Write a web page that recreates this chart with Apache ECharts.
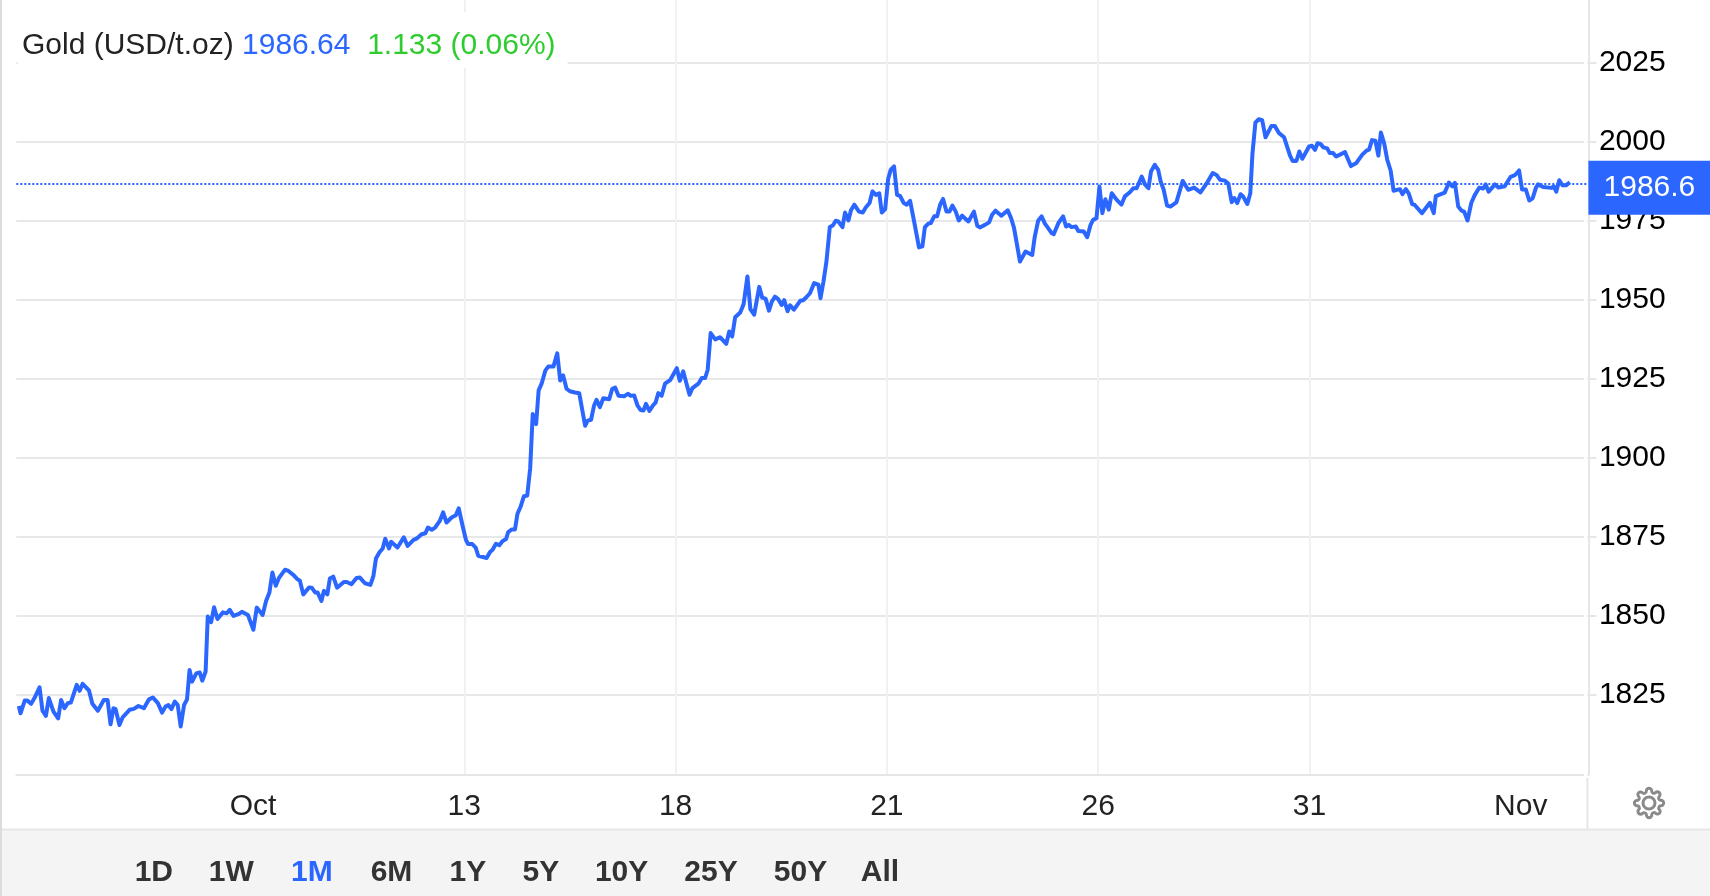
<!DOCTYPE html>
<html>
<head>
<meta charset="utf-8">
<style>html,body{margin:0;padding:0;background:#fff}#c{width:1710px;height:896px}</style>
<script src="https://cdn.jsdelivr.net/npm/echarts@6/dist/echarts.min.js"></script>
</head>
<body>
<div id="c"></div>
<script>
const sessionIndex = [
0.6,1,2,2.6,3.5,4.3,5.5,6.2,7,7.7,
8.8,9.9,10.6,11.4,12.2,12.9,14.3,15,15.7,17.2,
18,19.3,20.7,21.6,22.3,23,23.5,24.4,25.2,26.8,
27.8,28.9,30.2,31.4,32.3,33.5,34.5,35.3,36,36.7,
37.5,38.2,38.9,39.7,40.4,41,41.6,42.6,43.4,44,
44.8,45.3,46.1,46.8,47.6,48.9,49.8,50.5,51.4,52.7,
53.4,54.8,56.1,56.9,58.3,59.1,59.9,60.6,61.4,62.2,
63.6,64.4,65.5,66.5,67.1,67.9,69.3,69.9,70.7,71.3,
72.2,72.8,73.6,74.2,75,75.9,77.5,78.2,79.3,80.5,
81.3,82.5,83.8,84.5,85.1,85.9,86.7,87.3,88.2,88.7,
90.2,91.7,92.6,94,94.7,95.9,96.8,97.4,98.3,99.1,
100.2,101,101.8,103,104,104.7,105.6,106.4,106.9,107.9,
108.7,109.3,111.3,112.1,112.7,113.5,114.3,115.1,115.9,116.4,
117.2,118,118.6,119.3,120.1,120.9,121.6,122.2,123,123.6,
124.3,125.2,125.9,127.1,128,128.7,129.4,130.2,131,132.2,
133.2,134.6,135.2,136,136.7,137.3,138.1,138.9,140.3,141,
141.7,142.5,143.8,144.7,145.4,146.2,147,147.7,148.4,149,
149.8,150.6,151.3,151.9,152.7,153.5,154.7,156.3,157,157.8,
159.3,160,161.4,162.2,163,163.6,164.3,165.4,166.5,168,
168.7,169.4,170.1,171.3,172.1,173,173.7,174.6,175.8,176.5,
177.3,178.1,178.8,179.5,180.3,181.1,181.7,182.5,183.1,184,
185.5,186.2,187,187.8,188.8,189.8,190.3,191,191.7,192.5,
193.2,193.9,194.5,195.5,196.1,196.9,197.5,198.3,199.4,200.3,
201,201.9,202.6,203.4,204.2,204.8,205.6,206.3,206.9,207.7,
208.4,209.1,210,210.7,211.5,212.6,213.6,214.4,215,215.8,
216.4,217.2,217.9,218.6,219.3,220.1,220.8,221.5,222.3,223,
223.8,225.3,226.6,227.4,228,229.2,230.2,230.9,231.7,233.1,
234.6,235.4,236.1,237.5,238.8,240.4,241,241.8,242.6,243.4,
244,245,245.5,246.6,247.7,248.4,249,249.7,250.7,251.3,
252.6,253.4,254.2,254.8,255.6,256.3,257,257.7,258.5,259.2,
260.4,261.5,262.3,263.5,264.3,265.1,266.3,267.1,267.9,268.5,
269.4,270.2,270.8,271.5,272.3,273.1,274.5,276,277.3,278.7,
280.2,281.7,283.1,284,284.8,286,286.8,287.6,288.2,288.9,
289.7,290.3,291.3,292,292.5,293.2,294,294.8,295.6,297,
297.8,298.8,300,301.4,302,302.9,303.6,304.3,305.9,306.6,
307.3,307.9,308.6,309.3,310.2,310.8,311.6,312.3,314.4,315.8,
317.1,318.5,319.5,320.1,320.8,321.6,322.3,322.9,323.7,324.4,
325.2,325.9,327.4,328,328.8,329.5,330.3,330.9,332.6,334.5,
335.4,335.9,338,339,339.8,340.4,341.2,342,342.6,343.4,
344.3,345.1,346.2,347.1,347.7,348.4,349.9,350.7,352.2,353.6,
354.6,355.6,356.3,357.2,358,358.8,359.6,360.1,361.3,363.3,
363.8,364.4,365.1,365.9,366.7,367.6
];
const goldPrice = [
1821.5,1819.2,1823.2,1823.2,1822.2,1824,1827.4,1820,1818.4,1824,
1819.7,1817.6,1823.4,1820.8,1822.4,1822.6,1828.2,1826.3,1828.5,1826.4,
1822.2,1820,1823.4,1823.4,1815.7,1820.8,1820.5,1815.5,1818,1820.3,
1820.6,1821.5,1820.8,1823.6,1824.2,1822.4,1819.4,1821.3,1821.8,1820.5,
1822.9,1821.8,1815,1821.8,1823.6,1832.9,1829.2,1831.8,1832.1,1829.5,
1832.4,1849.8,1848,1852.7,1849,1851.1,1850.8,1851.9,1850,1850.6,
1851.3,1850.3,1845.6,1852.6,1850.3,1854.7,1857.4,1863.7,1859.5,1862.1,
1864.6,1864.2,1863,1861.6,1861.1,1856.8,1859,1858.9,1857.4,1857.4,
1854.7,1857.9,1856.8,1861.8,1862.4,1858.9,1860.7,1860.7,1860,1862,
1862.1,1860.3,1859.8,1862.6,1868.1,1870,1871.3,1874.4,1871.3,1873.4,
1871.6,1874.8,1872.1,1874,1874.4,1875.8,1876.1,1877.9,1877.2,1877.9,
1880,1882.7,1879.5,1881.1,1881.8,1884,1878.5,1874,1872.7,1872.7,
1871.6,1869,1868.3,1870.2,1870.9,1872.8,1872.3,1873.7,1874.3,1876.5,
1877.3,1877.3,1882.3,1884.4,1887.8,1888,1896.7,1913.8,1910.6,1921.3,
1923.4,1927.6,1928.8,1928.8,1933,1924.4,1926,1921.8,1921,1920.6,
1920.4,1910.1,1911.7,1912,1916.4,1918.3,1916,1918.8,1918.5,1921.7,
1922.2,1919.6,1919.4,1920.2,1919.6,1919.7,1916.5,1915.1,1914.9,1917,
1914.8,1916.4,1917.5,1920.4,1919.6,1923.4,1924.5,1928.3,1924.3,1927.3,
1919.9,1922,1923.4,1925.2,1925.2,1927.8,1939.4,1937.4,1938.1,1936,
1939.9,1938.3,1944.4,1945.9,1948.5,1957.3,1947,1945.2,1954,1950.6,
1950.3,1946.5,1949.4,1950.9,1950.1,1948.3,1949.8,1946.3,1948.2,1946.8,
1949.6,1949.8,1950.8,1952,1955.2,1954.7,1950.4,1955.7,1962,1972.9,
1973.4,1974.9,1974.7,1972.9,1977.5,1975,1978.2,1980,1977.8,1977.5,
1979.1,1980.5,1984.2,1983.1,1983.6,1977.5,1978.6,1988.1,1991,1992.1,
1983.1,1982.8,1980.5,1980,1981.2,1973.6,1966.5,1966.8,1972.9,1974,
1974.2,1976.3,1976.3,1980,1981.8,1977.8,1977.8,1979.7,1977.8,1975,
1976.5,1974.7,1977.8,1973.3,1972.8,1973.6,1974.4,1976.8,1978.1,1976.5,
1978.2,1975.7,1972.6,1962,1965.2,1964.1,1969.9,1974.9,1976.3,1974,
1972.9,1971,1970.7,1974.2,1976.3,1973.1,1973.6,1972.9,1973.1,1971.7,
1971.5,1969.7,1973.6,1975.2,1975.7,1985.7,1977.3,1981.7,1978.4,1983.6,
1981.5,1980,1982.6,1983.9,1985.2,1985.2,1988.9,1986.3,1985.2,1990.5,
1992.6,1991,1987.3,1984.7,1979.7,1979.4,1980.7,1987.5,1984.7,1985.4,
1983.9,1986.8,1990,1989.4,1987.9,1987.6,1986.6,1980.8,1982.1,1980.5,
1983.3,1982.6,1980.2,1983.6,1996,2005.9,2007,2006.7,2001.3,2004.9,
2004.9,2002.6,2001.3,1995.5,1993.8,1993.8,1996.8,1994.5,1998.4,1998.6,
1997.3,1999.4,1999.2,1998.1,1997.8,1996.3,1996.3,1995.2,1996.6,1992.2,
1993.2,1995.8,1997.1,1997.4,2000.4,2000.2,1995.5,2002.8,1999.2,1994.2,
1990.8,1984.4,1984.9,1983.3,1984.9,1983.5,1980.2,1979.9,1977.3,1980.6,
1977.3,1982.7,1983.8,1987,1985.8,1986.9,1979.4,1978.1,1977.8,1975,
1980.6,1983,1985.4,1985.1,1986.4,1984.1,1986.4,1985.4,1985.8,1988.8,
1989.3,1990.8,1984.8,1984.8,1981.3,1982,1985.4,1986.4,1985.6,1985.3,
1985.8,1984.1,1987.7,1986.1,1986.1,1987.1
];
const tickSessions = [56,106,156,206,256,306,356];
const tickLabels = ['Oct','13','18','21','26','31','Nov'];
const lastPrice = 1986.64;
const lastPriceLabel = '1986.6';
const titleName = 'Gold (USD/t.oz)';
const titlePrice = '1986.64';
const titleChange = '1.133 (0.06%)';
const rangeButtons = ['1D','1W','1M','6M','1Y','5Y','10Y','25Y','50Y','All'];
const rangeCenters = [153.8,231.2,311.9,391.5,467.9,540.9,621.6,711,800.5,880];
const activeRange = '1M';

const BLUE = '#2b66ff', FONT = '"Liberation Sans", Arial, sans-serif';
const GEAR = 'M19.4 15a1.65 1.65 0 0 0 .33 1.82l.06.06a2 2 0 0 1 0 2.83 2 2 0 0 1-2.83 0l-.06-.06a1.65 1.65 0 0 0-1.82-.33 1.65 1.65 0 0 0-1 1.51V21a2 2 0 0 1-2 2 2 2 0 0 1-2-2v-.09A1.65 1.65 0 0 0 9 19.4a1.65 1.65 0 0 0-1.82.33l-.06.06a2 2 0 0 1-2.83 0 2 2 0 0 1 0-2.83l.06-.06a1.65 1.65 0 0 0 .33-1.82 1.65 1.65 0 0 0-1.51-1H3a2 2 0 0 1-2-2 2 2 0 0 1 2-2h.09A1.65 1.65 0 0 0 4.6 9a1.65 1.65 0 0 0-.33-1.82l-.06-.06a2 2 0 0 1 0-2.83 2 2 0 0 1 2.83 0l.06.06a1.65 1.65 0 0 0 1.82.33H9a1.65 1.65 0 0 0 1-1.51V3a2 2 0 0 1 2-2 2 2 0 0 1 2 2v.09a1.65 1.65 0 0 0 1 1.51 1.65 1.65 0 0 0 1.82-.33l.06-.06a2 2 0 0 1 2.83 0 2 2 0 0 1 0 2.83l-.06.06a1.65 1.65 0 0 0-.33 1.82V9a1.65 1.65 0 0 0 1.51 1H21a2 2 0 0 1 2 2 2 2 0 0 1-2 2h-.09a1.65 1.65 0 0 0-1.51 1z';
echarts.graphic.registerShape('gear', echarts.graphic.extendPath(GEAR, {}));

const chart = echarts.init(document.getElementById('c'), null, {renderer:'canvas'});
const graphics = [
  {type:'rect', z:1, shape:{x:0,y:0,width:2,height:896}, style:{fill:'#dcdcdc'}, silent:true},
  {type:'rect', z:1, shape:{x:2,y:830,width:1708,height:66}, style:{fill:'#f4f4f4'}, silent:true},
  {type:'rect', z:1, shape:{x:2,y:828.5,width:1708,height:2}, style:{fill:'#e6e6e6'}, silent:true},
  {type:'rect', z:1, shape:{x:1586.4,y:778,width:2,height:51}, style:{fill:'#e6e6e6'}, silent:true},
  {type:'rect', z:1, shape:{x:1584,y:0,width:3.2,height:778}, style:{fill:'#fff'}, silent:true},
  {type:'gear', z:3, x:1633,y:787,scaleX:1.3333,scaleY:1.3333, style:{fill:'none',stroke:'#8a8a8a',lineWidth:2.2}, silent:true},
  {type:'circle', z:3, shape:{cx:1649,cy:803,r:6}, style:{fill:'none',stroke:'#8a8a8a',lineWidth:3}, silent:true}
];
rangeButtons.forEach((t,i)=>graphics.push({
  type:'text', z:3, x:rangeCenters[i], y:873, silent:true,
  style:{text:t, fontFamily:FONT, fontSize:30, fontWeight:'bold', fill:t===activeRange?BLUE:'#333', align:'center', verticalAlign:'middle'}
}));

chart.setOption({
  animation:false,
  backgroundColor:'#fff',
  title:{
    left:18, top:12, padding:[19,12,7,4], backgroundColor:'#fff', z:6,
    text:`{a|${titleName}} {b|${titlePrice}}  {c|${titleChange}}`,
    textStyle:{fontWeight:'normal',fontSize:30,fontFamily:FONT,rich:{
      a:{color:'#222',fontSize:30,fontWeight:'normal',fontFamily:FONT,lineHeight:30},
      b:{color:BLUE,fontSize:30,fontWeight:'normal',fontFamily:FONT,lineHeight:30},
      c:{color:'#2ecc2e',fontSize:30,fontWeight:'normal',fontFamily:FONT,lineHeight:30}
    }}
  },
  grid:{left:16.3, top:0, width:1572.1, height:774},
  xAxis:{
    type:'value', min:0, max:372, offset:1,
    axisLine:{lineStyle:{color:'#e6e6e6',width:2}},
    axisTick:{show:false, customValues:tickSessions},
    axisLabel:{
      customValues:tickSessions, margin:17, fontSize:30, fontFamily:FONT, color:'#222',
      formatter:v=>tickLabels[tickSessions.indexOf(v)]
    },
    splitLine:{show:true, showMinLine:false, showMaxLine:false, lineStyle:{color:'#eff1f5',width:2}}
  },
  yAxis:{
    type:'value', position:'right', min:1800, max:2044.7, interval:25,
    axisLine:{show:true, onZero:false, lineStyle:{color:'#e6e6e6',width:2}},
    axisTick:{show:true, length:8, lineStyle:{color:'#e6e6e6',width:2}},
    axisLabel:{margin:10.5, fontSize:30, fontFamily:FONT, color:'#000', showMinLabel:false, showMaxLabel:false,
      formatter:v=>String(v)},
    splitLine:{show:true, showMinLine:false, showMaxLine:false, lineStyle:{color:'#e8e8e8',width:2}}
  },
  graphic:{elements:graphics},
  series:[{
    type:'line', showSymbol:false, smooth:false, z:4, clip:false,
    data:sessionIndex.map((x,i)=>[x,goldPrice[i]]),
    lineStyle:{color:BLUE,width:4,join:'round'},
    itemStyle:{color:BLUE},
    markLine:{
      silent:true, symbol:'none', z:8,
      data:[{yAxis:lastPrice}],
      lineStyle:{color:BLUE,type:[2,2],width:2},
      label:{
        show:true, position:'end', distance:0, formatter:lastPriceLabel, color:'#fff',
        fontSize:30, fontFamily:FONT, backgroundColor:BLUE,
        width:122, height:44, lineHeight:44, align:'center', verticalAlign:'middle', padding:[10,0,0,0], offset:[61,4]
      }
    }
  }]
});
</script>
</body>
</html>
